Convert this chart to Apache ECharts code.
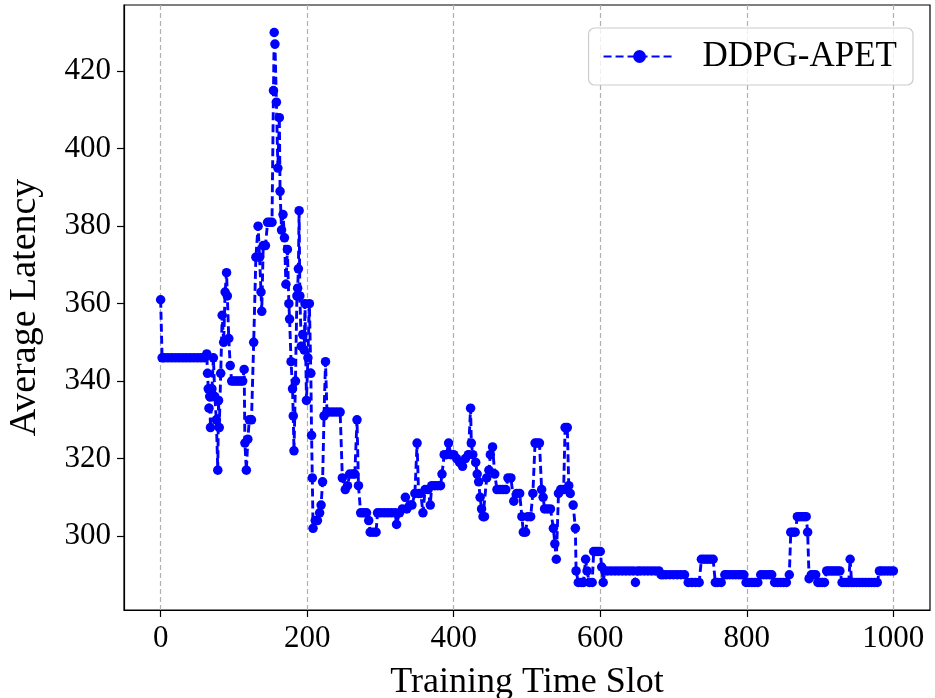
<!DOCTYPE html>
<html>
<head>
<meta charset="utf-8">
<script src="https://cdn.jsdelivr.net/npm/echarts@6/dist/echarts.min.js"></script>
<style>
  html, body { margin: 0; padding: 0; background: #fff; }
  #chart { width: 935px; height: 698px; }
</style>
</head>
<body>
<div id="chart"></div>
<script>
// Training time slot of each recorded point
const slots = [
  0, 2, 5, 10, 15, 20, 25, 30, 35, 40, 45, 50, 55, 60,
  63, 64, 65, 66, 67, 68, 70, 72, 74, 76, 78, 79, 80, 82, 84, 86, 88, 90, 91, 93, 95, 97,
  100, 103, 106, 109, 112, 114, 115, 117, 119, 121, 124, 127, 130, 133, 135, 137, 138, 140,
  143, 146, 149, 152, 154, 155, 156, 158, 160, 162, 163, 165, 167, 169, 171, 173, 175, 176,
  178, 180, 181, 182, 184, 186, 187, 188, 189, 190, 192, 194, 196, 197, 199, 201, 203, 205,
  206, 207, 208, 211, 214, 217, 219, 221, 223, 225, 227, 230, 235, 240, 245, 248, 252, 255,
  258, 262, 265, 268, 270, 273, 277, 281, 284, 286, 290, 294, 296, 300, 305, 310, 315, 320,
  322, 326, 330, 334, 336, 340, 343, 347, 350, 352, 355, 358, 361, 365, 368, 370, 374, 378,
  382, 384, 387, 390, 393, 396, 400, 404, 408, 412, 416, 420, 423, 424, 426, 430, 432, 434,
  436, 438, 440, 442, 445, 448, 450, 453, 456, 459, 463, 467, 471, 474, 478, 482, 486, 490,
  493, 495, 498, 501, 505, 508, 511, 514, 517, 520, 522, 524, 528, 532, 536, 538, 540, 543,
  546, 550, 552, 555, 557, 559, 563, 566, 567, 570, 574, 577, 580, 582, 585, 589, 591, 594,
  597, 600, 602, 604, 606, 610, 615, 620, 625, 630, 635, 640, 645, 648, 651, 655, 660, 665,
  670, 675, 680, 683, 686, 690, 695, 700, 705, 710, 715, 720, 725, 730, 735, 738, 742, 746,
  750, 754, 757, 760, 765, 770, 773, 777, 781, 785, 789, 792, 796, 799, 803, 807, 811, 815,
  819, 823, 827, 831, 834, 838, 842, 846, 850, 854, 858, 860, 863, 866, 869, 872, 875, 878,
  881, 883, 885, 888, 891, 894, 897, 900, 903, 906, 909, 912, 915, 918, 921, 924, 927, 930,
  933, 936, 939, 941, 943, 946, 950, 954, 958, 962, 966, 970, 974, 978, 981, 984, 988, 992,
  996, 1000
];

// Average latency at each slot
const latency = [
  361, 346, 346, 346, 346, 346, 346, 346, 346, 346, 346, 346, 346, 346,
  347, 342, 338, 333, 336, 328, 338, 346, 336, 330, 317, 335, 328, 342, 357, 350, 363, 368, 362, 351, 344, 340,
  340, 340, 340, 340, 340, 343, 324, 317, 325, 330, 330, 350, 372, 380, 372, 363, 358, 375,
  375, 381, 381, 381, 415, 430, 427, 412, 395, 408, 389, 379, 383, 377, 365, 374, 360, 356,
  345, 338, 331, 322, 340, 362, 364, 369, 384, 362, 349, 352, 348, 360, 335, 346, 360, 342,
  326, 315, 302, 304, 304, 306, 308, 314, 331, 345, 332, 332, 332, 332, 332, 315, 312, 313,
  316, 316, 316, 330, 313, 306, 306, 306, 304, 301, 301, 301, 306, 306, 306, 306, 306, 306,
  303, 306, 307, 310, 307, 308, 308, 311, 324, 311, 311, 306, 312, 312, 308, 313, 313, 313,
  313, 316, 321, 321, 324, 321, 321, 320, 319, 318, 320, 321, 333, 324, 321, 319, 316, 314,
  310, 307, 305, 305, 315, 317, 321, 323, 316, 312, 312, 312, 312, 315, 315, 309, 311, 311,
  305, 301, 301, 305, 305, 311, 324, 324, 324, 312, 310, 307, 307, 307, 302, 298, 294, 311,
  312, 312, 328, 328, 313, 311, 308, 302, 291, 288, 288, 288, 294, 291, 288, 288, 296, 296,
  296, 296, 292, 288, 291, 291, 291, 291, 291, 291, 291, 291, 291, 288, 291, 291, 291, 291,
  291, 291, 291, 290, 290, 290, 290, 290, 290, 290, 290, 288, 288, 288, 288, 294, 294, 294,
  294, 294, 288, 288, 288, 290, 290, 290, 290, 290, 290, 290, 290, 288, 288, 288, 288, 288,
  290, 290, 290, 290, 290, 288, 288, 288, 288, 288, 290, 301, 301, 301, 305, 305, 305, 305,
  305, 301, 289, 290, 290, 290, 288, 288, 288, 288, 291, 291, 291, 291, 291, 291, 291, 288,
  288, 288, 288, 294, 288, 288, 288, 288, 288, 288, 288, 288, 288, 288, 291, 291, 291, 291,
  291, 291
];

const seriesName = 'DDPG-APET';
const slotTicks = [0, 200, 400, 600, 800, 1000];
const latencyTicks = [300, 320, 340, 360, 380, 400, 420];

const points = slots.map((s, i) => [s, latency[i]]);
const serif = '"Liberation Serif", "DejaVu Serif", serif';
const plain = v => String(v);

const chart = echarts.init(document.getElementById('chart'), null, { renderer: 'canvas' });

chart.setOption({
  animation: false,
  backgroundColor: '#ffffff',
  grid: {
    left: 124, right: 5, top: 5, bottom: 88,
    show: true, borderColor: '#000000', borderWidth: 1.2,
    backgroundColor: 'transparent', containLabel: false,
    outerBoundsMode: 'none'
  },
  legend: {
    data: [seriesName],
    right: 22, top: 28,
    padding: [11, 16, 11, 14],
    itemWidth: 72, itemHeight: 16, itemGap: 10,
    borderColor: '#cccccc', borderWidth: 1.2, borderRadius: 6,
    backgroundColor: 'rgba(255,255,255,0.8)',
    textStyle: { fontFamily: serif, fontSize: 35, color: '#000', padding: [0, 0, 0, 22] }
  },
  xAxis: {
    type: 'value',
    min: -50, max: 1050,
    name: 'Training Time Slot',
    nameLocation: 'middle',
    nameGap: 55,
    nameTextStyle: { fontFamily: serif, fontSize: 36, color: '#000', verticalAlign: 'top' },
    axisLine: { show: true, onZero: false, lineStyle: { color: '#000', width: 1.2 } },
    axisTick: { show: true, inside: false, length: 7, lineStyle: { color: '#000', width: 1.2 }, customValues: slotTicks },
    axisLabel: { show: true, margin: 13, fontFamily: serif, fontSize: 31, color: '#000', customValues: slotTicks, formatter: plain },
    splitLine: { show: true, lineStyle: { color: '#b0b0b0', width: 1.2, type: [5, 3] } }
  },
  yAxis: {
    type: 'value',
    min: 280.9, max: 437.1,
    name: 'Average Latency',
    nameLocation: 'middle',
    nameGap: 80,
    nameRotate: 90,
    nameTextStyle: { fontFamily: serif, fontSize: 38, color: '#000' },
    axisLine: { show: true, onZero: false, lineStyle: { color: '#000', width: 1.2 } },
    axisTick: { show: true, inside: false, length: 7, lineStyle: { color: '#000', width: 1.2 }, customValues: latencyTicks },
    axisLabel: { show: true, margin: 13, fontFamily: serif, fontSize: 31, color: '#000', customValues: latencyTicks, formatter: plain },
    splitLine: { show: false }
  },
  series: [{
    name: seriesName,
    type: 'line',
    data: points,
    symbol: 'circle',
    symbolSize: 9.5,
    showAllSymbol: true,
    itemStyle: { color: '#0000ff' },
    lineStyle: { color: '#0000ff', width: 2.9, type: [8, 4] },
    z: 3
  }]
});
</script>
</body>
</html>
